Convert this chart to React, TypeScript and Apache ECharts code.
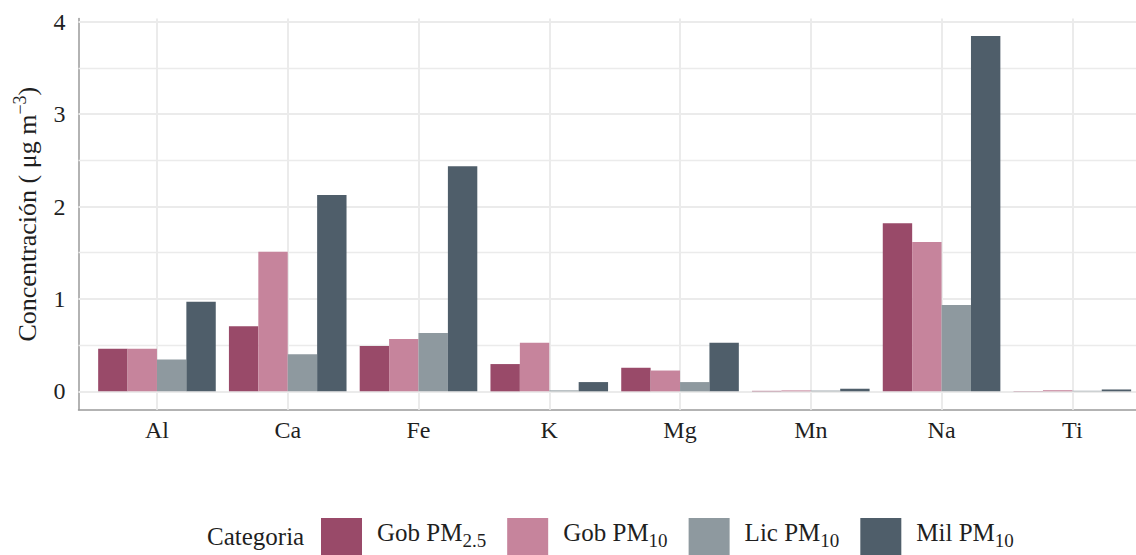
import React, { useEffect, useRef } from "react";
import * as echarts from "echarts";

// Elements measured
const categories = ["Al", "Ca", "Fe", "K", "Mg", "Mn", "Na", "Ti"];

// Concentrations in µg m^-3 per group
const gobPM25 = [0.46, 0.705, 0.49, 0.295, 0.255, 0.005, 1.82, 0.003];
const gobPM10 = [0.46, 1.51, 0.565, 0.525, 0.225, 0.01, 1.615, 0.012];
const licPM10 = [0.345, 0.40, 0.63, 0.01, 0.10, 0.008, 0.935, 0.006];
const milPM10 = [0.97, 2.125, 2.435, 0.10, 0.525, 0.028, 3.845, 0.02];

const seriesNames = ["Gob PM2.5", "Gob PM10", "Lic PM10", "Mil PM10"];
const legendBase = ["Gob PM", "Gob PM", "Lic PM", "Mil PM"];
const legendSub = ["2.5", "10", "10", "10"];
const seriesValues = [gobPM25, gobPM10, licPM10, milPM10];
const seriesColors = ["#994a69", "#c6849c", "#8e999f", "#4f5e6a"];

const yMajorTicks = [0, 1, 2, 3, 4];
const yMinorTicks = [0.5, 1.5, 2.5, 3.5];

const FONT = "'Liberation Serif', 'Times New Roman', Times, serif";
const TEXT = "#1f1f1f";
const GRID_COLOR = "#ebebeb";
const AXIS_COLOR = "#9a9a9a";

const isWhole = (v: number) => Math.abs(v - Math.round(v)) < 1e-6;

export default function App() {
  const ref = useRef<HTMLDivElement>(null);

  useEffect(() => {
    if (!ref.current) return;
    const chart = echarts.init(ref.current, undefined, { renderer: "svg" });

    const barSeries = seriesNames.map((name, s) => ({
      name,
      type: "bar",
      data: seriesValues[s].map((v, i) => [i, v]),
      barWidth: 29.4,
      barGap: "0%",
      itemStyle: { color: seriesColors[s] },
      z: 2,
      silent: true,
    }));

    // Panel grid lines: verticals at each element, major/minor horizontals
    const gridSeries = {
      name: "grid",
      type: "line",
      data: [],
      z: 1,
      silent: true,
      markLine: {
        z: 1,
        silent: true,
        symbol: ["none", "none"],
        label: { show: false },
        emphasis: { disabled: true },
        data: [
          ...categories.map((_, i) => ({
            xAxis: i,
            lineStyle: { color: GRID_COLOR, width: 2, type: "solid" },
          })),
          ...yMajorTicks.map((v) => ({
            yAxis: v,
            lineStyle: { color: GRID_COLOR, width: 2, type: "solid" },
          })),
          ...yMinorTicks.map((v) => ({
            yAxis: v,
            lineStyle: { color: GRID_COLOR, width: 1.3, type: "solid" },
          })),
        ],
      },
    };

    chart.setOption({
      animation: false,
      backgroundColor: "#ffffff",
      textStyle: { fontFamily: FONT },
      grid: {
        left: 78.5,
        top: 18.5,
        width: 1072.3,
        height: 391.3,
        outerBoundsMode: "none",
      },
      xAxis: {
        type: "value",
        min: -0.6,
        max: 7.6,
        interval: 0.2,
        splitLine: { show: false },
        axisTick: { show: false },
        axisLine: { show: true, onZero: false, lineStyle: { color: AXIS_COLOR, width: 1.5 } },
        axisLabel: {
          fontFamily: FONT,
          fontSize: 24,
          color: TEXT,
          margin: 8,
          showMinLabel: false,
          showMaxLabel: false,
          formatter: (v: number) =>
            isWhole(v) && v >= 0 && v < categories.length ? categories[Math.round(v)] : "",
        },
      },
      yAxis: {
        type: "value",
        min: -0.2,
        max: 4.035,
        interval: 0.2,
        splitLine: { show: false },
        axisTick: { show: false },
        axisLine: { show: true, onZero: false, lineStyle: { color: AXIS_COLOR, width: 1.5 } },
        axisLabel: {
          fontFamily: FONT,
          fontSize: 24,
          color: TEXT,
          margin: 13,
          showMaxLabel: false,
          formatter: (v: number) => (isWhole(v) && v >= 0 ? String(Math.round(v)) : ""),
        },
        name: "{t|Concentración ( μg m}{sup|−3}{t|)}",
        nameLocation: "middle",
        nameRotate: 90,
        nameGap: 34,
        nameTextStyle: {
          fontFamily: FONT,
          color: TEXT,
          rich: {
            t: { fontFamily: FONT, fontSize: 26, color: TEXT, lineHeight: 34 },
            sup: { fontFamily: FONT, fontSize: 18, color: TEXT, verticalAlign: "top" },
          },
        },
      },
      legend: {
        left: 316,
        top: 513,
        orient: "horizontal",
        itemWidth: 41,
        itemHeight: 41,
        itemGap: 21,
        icon: "rect",
        selectedMode: false,
        data: seriesNames,
        formatter: (name: string) => {
          const i = seriesNames.indexOf(name);
          return `{b|${legendBase[i]}}{s|${legendSub[i]}}`;
        },
        textStyle: {
          fontFamily: FONT,
          fontSize: 25,
          color: TEXT,
          padding: [0, 0, 12, 10],
          rich: {
            b: { fontFamily: FONT, fontSize: 25, color: TEXT, lineHeight: 34 },
            s: { fontFamily: FONT, fontSize: 19, color: TEXT, verticalAlign: "bottom" },
          },
        },
      },
      graphic: [
        {
          type: "text",
          left: 207,
          top: 524,
          silent: true,
          style: {
            text: "Categoria",
            fontFamily: FONT,
            fontSize: 25,
            fill: TEXT,
          },
        },
      ],
      series: [gridSeries, ...barSeries],
    });

    return () => chart.dispose();
  }, []);

  return (
    <div
      ref={ref}
      style={{ position: "fixed", left: 0, top: 0, width: 1136, height: 555, background: "#fff" }}
    />
  );
}
